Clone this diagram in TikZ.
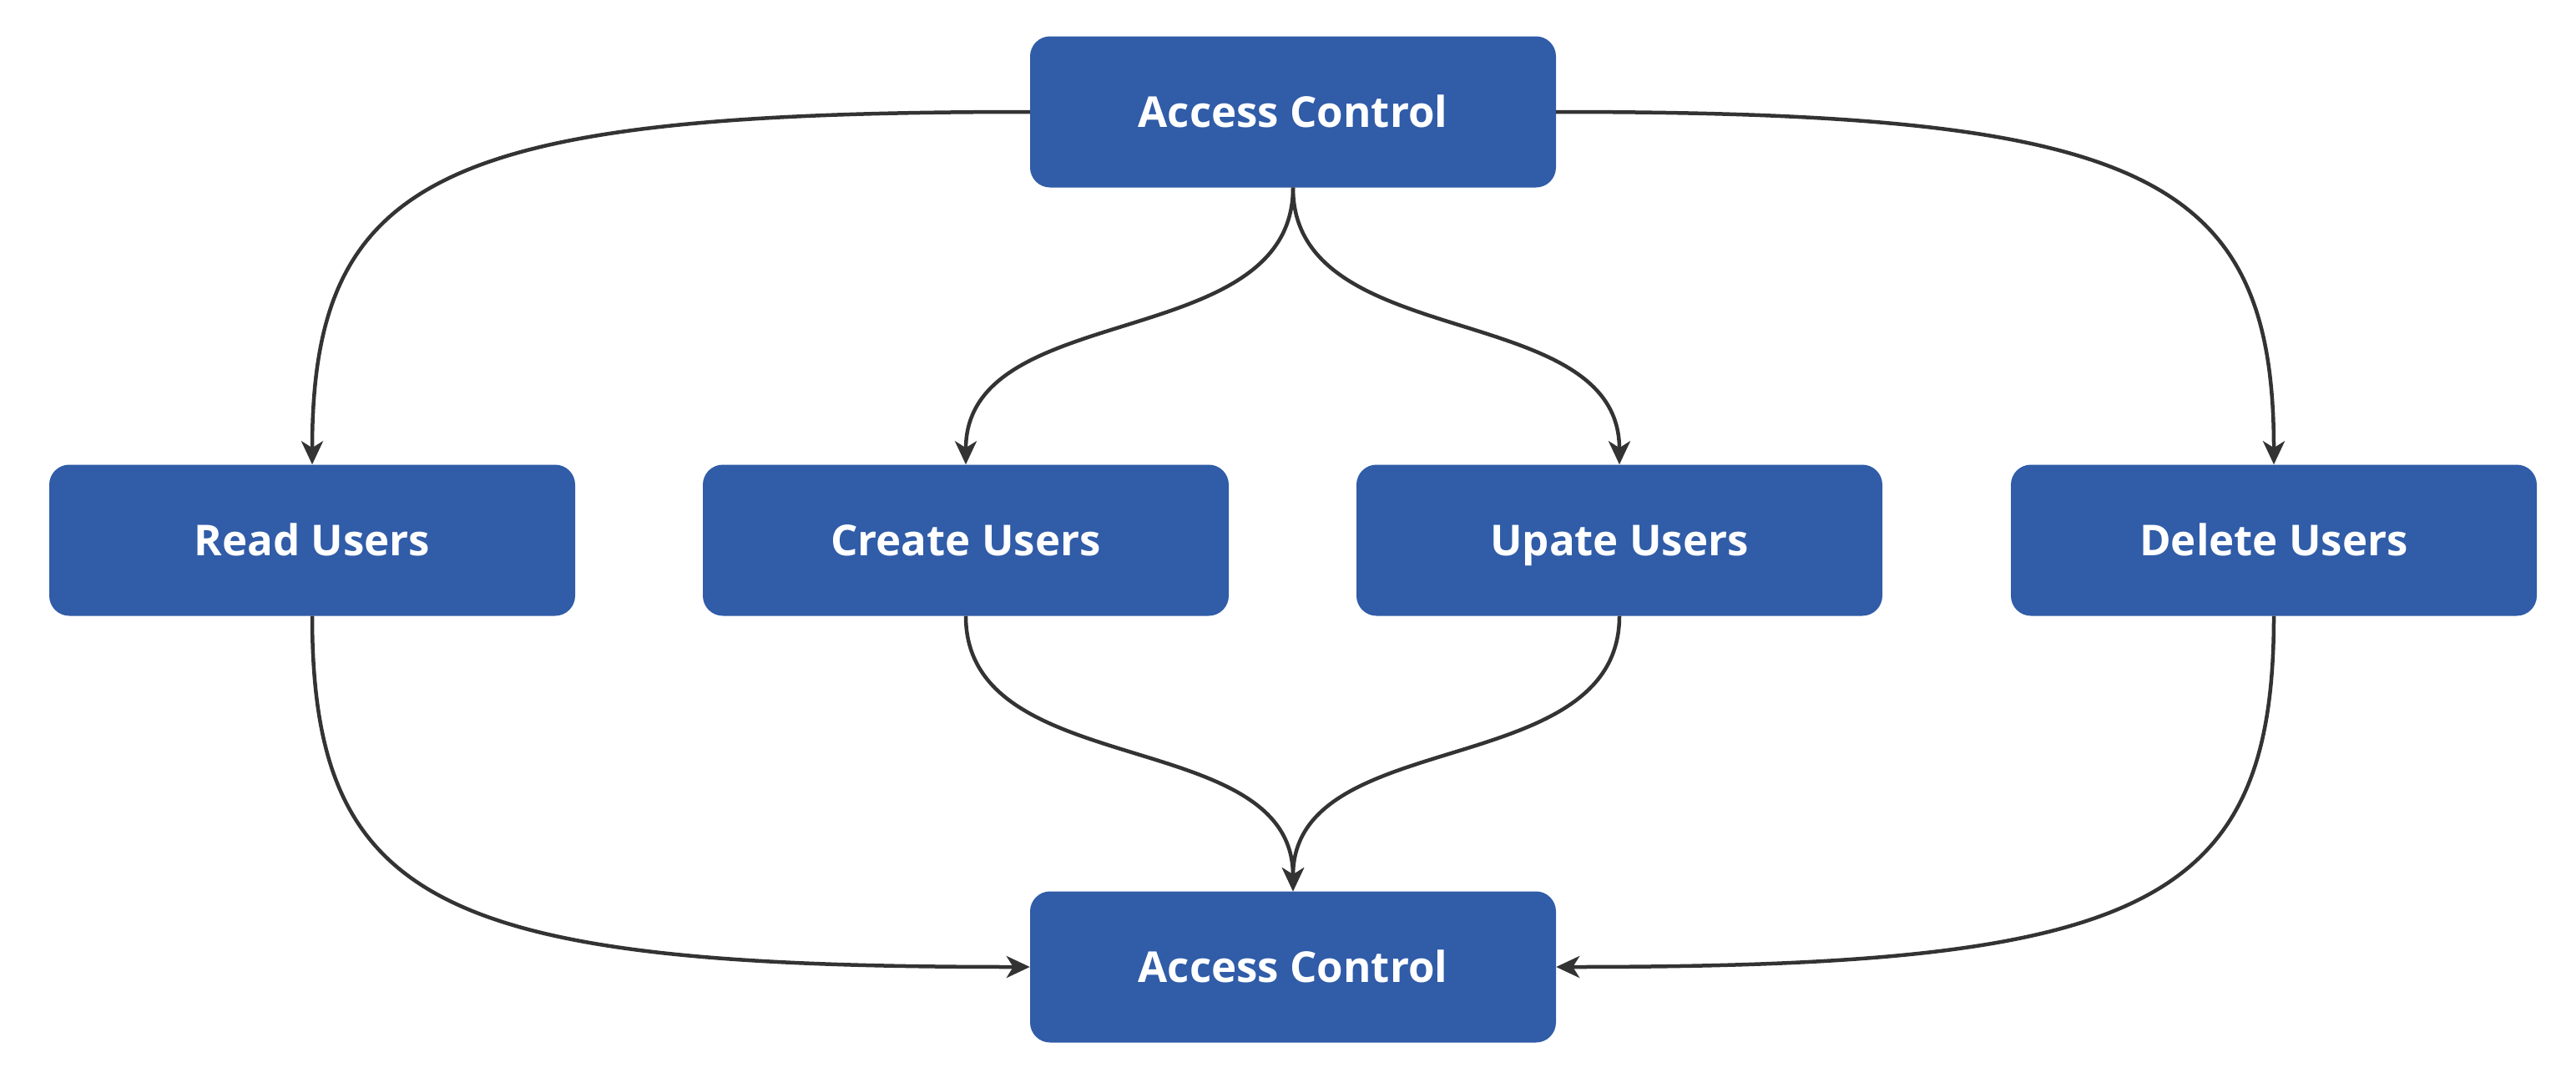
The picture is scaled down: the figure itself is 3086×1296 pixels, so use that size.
\documentclass[tikz,border=0pt]{standalone}
\usepackage{fontspec}
\setmainfont{Open Sans}
\usetikzlibrary{arrows.meta}
\definecolor{boxblue}{HTML}{305CA8}
\definecolor{linegray}{HTML}{333333}
\tikzset{
  box/.style={rectangle, rounded corners=24pt, fill=boxblue, text=white,
    minimum width=630pt, minimum height=181pt, inner sep=0pt,
    text height=37pt, text depth=0pt,
    font=\fontsize{51}{60}\selectfont\bfseries},
  conn/.style={draw=linegray, line width=4.5pt,
    -{Stealth[length=28pt,width=26pt,inset=8pt]}},
}
\begin{document}
\begin{tikzpicture}[x=1pt,y=-1pt]
\useasboundingbox (0,0) rectangle (3086,1296);
\node[box] (top) at (1549,134) {Access Control};
\node[box] (read) at (374,647) {Read Users};
\node[box] (create) at (1157,647) {Create Users};
\node[box] (update) at (1940,647) {Upate Users};
\node[box] (delete) at (2724,647) {Delete Users};
\node[box] (bot) at (1549,1158) {Access Control};

\draw[conn] (top.west) .. controls +(-700,0) and +(0,-350) .. (read.north);
\draw[conn] (top.east) .. controls +(700,0) and +(0,-350) .. (delete.north);
\draw[conn] (top.south) .. controls +(0,200) and +(0,-200) .. (create.north);
\draw[conn] (top.south) .. controls +(0,200) and +(0,-200) .. (update.north);

\draw[conn] (read.south) .. controls +(0,350) and +(-700,0) .. (bot.west);
\draw[conn] (delete.south) .. controls +(0,350) and +(700,0) .. (bot.east);
\draw[conn] (create.south) .. controls +(0,200) and +(0,-200) .. (bot.north);
\draw[conn] (update.south) .. controls +(0,200) and +(0,-200) .. (bot.north);
\end{tikzpicture}
\end{document}
